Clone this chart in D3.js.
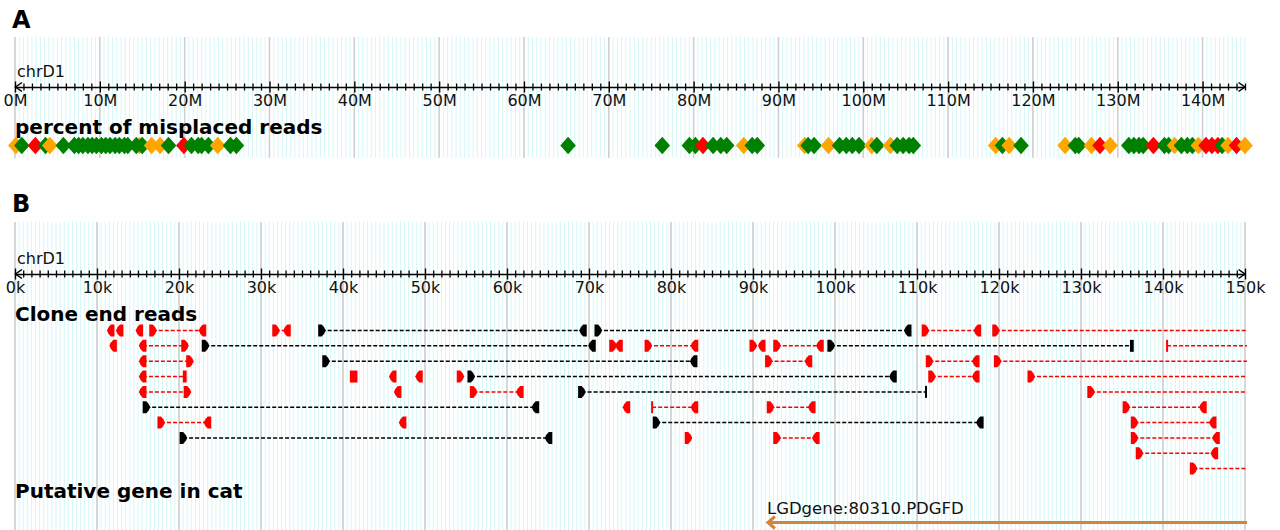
<!DOCTYPE html>
<html>
<head>
<meta charset="utf-8">
<script src="https://cdn.jsdelivr.net/npm/d3@7"></script>
<style>
  body { margin: 0; background: #fff; }
  svg { display: block; font-family: "DejaVu Sans", sans-serif; }
</style>
</head>
<body>
<svg id="chart" width="1280" height="530"></svg>
<script>
// ---------- Panel A: misplaced-read scan along chrD1 (positions in Mb) ----------
const chromName = "chrD1";
const chromLengthMb = 145;
const majorTicksMb = d3.range(0, 141, 10);
const minorTicksMb = d3.range(0, 146, 1);

// window centres (Mb) and the misplaced-read level of each window
const scanPosMb = [
  0.1, 0.8, 2.4, 3.6, 4.1, 5.7,
  7.0, 7.5, 8.0, 8.6, 9.1, 9.6, 10.2, 10.7, 11.2, 11.8, 12.3, 12.9, 13.3,
  14.7, 14.3, 15.0, 16.1, 17.1, 18.1, 19.9, 20.8, 21.6, 22.0, 22.8, 23.9, 25.4, 26.1,
  65.2, 76.3, 79.5, 80.2, 81.1, 82.3, 83.2, 83.9, 85.9, 86.9, 87.5,
  93.1, 93.5, 94.2, 95.9, 97.2, 98.0, 98.7, 99.5, 101.0, 101.6,
  103.2, 104.0, 104.7, 105.4, 105.9,
  115.6, 116.4, 117.2, 118.6,
  123.8, 125.0, 125.4, 126.9, 127.9, 129.1,
  131.3, 131.9, 132.5, 133.0, 134.2, 135.5, 136.0, 136.7, 137.5, 138.2, 138.8,
  139.5, 140.4, 141.1, 141.8, 142.3, 143.0, 144.0, 145.0
];
const scanLevel = [
  "mid", "low", "high", "low", "mid", "low",
  "low", "low", "low", "low", "low", "low", "low", "low", "low", "low", "low", "low", "low",
  "mid", "low", "low", "mid", "mid", "low", "high", "low", "low", "low", "low", "mid", "low", "low",
  "low", "low", "low", "low", "high", "low", "low", "low", "mid", "low", "low",
  "mid", "low", "low", "mid", "low", "low", "low", "low", "mid", "low",
  "mid", "low", "low", "low", "low",
  "mid", "low", "mid", "low",
  "mid", "low", "low", "mid", "high", "mid",
  "low", "low", "low", "low", "high", "low", "low", "mid", "low", "low", "low",
  "mid", "high", "high", "high", "low", "mid", "high", "mid"
];
const levelNames = ["low", "mid", "high"];
const levelColors = ["#008000", "#ffa500", "#ff0000"];

// ---------- Panel B: clone end reads in a 150 kb window (positions in kb) ----------
const windowKb = 150;
const majorTicksKb = d3.range(0, 151, 10);
const minorTicksKb = d3.range(0, 151, 1);

// paired clones: [track, left read kb, right read kb (null = mate beyond window),
//                 status, left read strand, right read strand]
// strand "+" / "-" ; "|" and "||" mark clipped read ends
const pairedClones = [
  [0, 16.8, 22.9, "discordant", "+", "-"],
  [0, 31.8, 33.2, "discordant", "+", "-"],
  [0, 37.4, 69.3, "concordant", "+", "-"],
  [0, 71.1, 108.9, "concordant", "+", "-"],
  [0, 111.0, 117.4, "discordant", "+", "-"],
  [0, 119.6, null, "discordant", "+", null],
  [1, 15.6, 20.7, "discordant", "-", "+"],
  [1, 23.2, 70.4, "concordant", "+", "-"],
  [1, 72.9, 73.7, "discordant", "+", "-"],
  [1, 77.2, 82.9, "discordant", "+", "-"],
  [1, 90.0, 91.1, "discordant", "+", "-"],
  [1, 92.9, 98.2, "discordant", "+", "-"],
  [1, 99.5, 136.2, "concordant", "+", "||"],
  [1, 140.5, null, "discordant", "|", null],
  [2, 15.6, 21.3, "discordant", "-", "+"],
  [2, 37.9, 82.8, "concordant", "+", "-"],
  [2, 91.9, 96.8, "discordant", "+", "-"],
  [2, 111.5, 117.2, "discordant", "+", "-"],
  [2, 119.8, null, "discordant", "+", null],
  [3, 15.6, 20.7, "discordant", "-", "||"],
  [3, 55.6, 107.1, "concordant", "+", "-"],
  [3, 111.8, 117.2, "discordant", "+", "-"],
  [3, 123.9, null, "discordant", "+", null],
  [4, 15.6, 21.0, "discordant", "-", "+"],
  [4, 55.9, 61.6, "discordant", "+", "-"],
  [4, 69.1, 111.1, "concordant", "+", "|"],
  [4, 131.2, null, "discordant", "+", null],
  [5, 16.0, 63.5, "concordant", "+", "-"],
  [5, 77.7, 82.9, "discordant", "|", "-"],
  [5, 92.1, 97.2, "discordant", "+", "-"],
  [5, 135.5, 144.9, "discordant", "+", "-"],
  [6, 17.8, 23.5, "discordant", "+", "-"],
  [6, 78.2, 117.7, "concordant", "+", "-"],
  [6, 136.5, 146.1, "discordant", "+", "-"],
  [7, 20.5, 65.1, "concordant", "+", "-"],
  [7, 92.9, 97.7, "discordant", "+", "-"],
  [7, 136.5, 146.5, "discordant", "+", "-"],
  [8, 137.1, 146.3, "discordant", "+", "-"],
  [9, 143.7, null, "discordant", "+", null]
];

// reads whose mate maps elsewhere: [track, kb, strand]  ("#" = overlapping reads)
const unpairedReads = [
  [0, 11.7, "-"], [0, 12.8, "-"], [0, 15.2, "-"],
  [1, 12.0, "-"],
  [3, 41.3, "#"], [3, 46.1, "-"], [3, 49.3, "-"], [3, 54.3, "+"],
  [4, 46.7, "-"],
  [5, 74.6, "-"],
  [6, 47.3, "-"],
  [7, 82.1, "+"]
];

// putative gene: name, start kb, end kb (null = beyond window), strand
const geneName = "LGDgene:80310.PDGFD";
const geneStartKb = 91.7;
const geneEndKb = null;
const geneStrand = "-";

// ---------- drawing ----------
const svg = d3.select("#chart");
const plotLeft = 15, plotRight = 1245;

const xA = d3.scaleLinear().domain([0, chromLengthMb]).range([plotLeft, plotRight]);
const xB = d3.scaleLinear().domain([0, windowKb]).range([plotLeft, plotRight]);
const levelColor = d3.scaleOrdinal().domain(levelNames).range(levelColors);
const statusColor = d3.scaleOrdinal().domain(["concordant", "discordant"]).range(["#000000", "#ff0000"]);

function drawGrid(x, maxVal, majors, yTop, yBottom) {
  const g = svg.append("g");
  g.append("g").selectAll("line")
    .data(d3.range(0, maxVal + 0.001, 0.5))
    .join("line")
    .attr("x1", d => x(d)).attr("x2", d => x(d))
    .attr("y1", yTop).attr("y2", yBottom)
    .attr("stroke", "#d6f7f7").attr("stroke-width", 1);
  g.append("g").selectAll("line")
    .data(majors)
    .join("line")
    .attr("x1", d => x(d)).attr("x2", d => x(d))
    .attr("y1", yTop).attr("y2", yBottom)
    .attr("stroke", "#d0d0d0").attr("stroke-width", 1.6);
}

function drawChromAxis(x, y, majors, minors, unit) {
  const g = svg.append("g").attr("transform", `translate(0,${y})`);

  const majorSet = new Set(majors);
  const minorAxis = g.append("g")
    .call(d3.axisBottom(x).tickValues(minors.filter(d => !majorSet.has(d)))
      .tickSize(3).tickSizeOuter(0).tickFormat(""));
  minorAxis.select(".domain").remove();
  minorAxis.selectAll(".tick line").attr("y1", -3.5).attr("y2", 3.5)
    .attr("stroke", "#000").attr("stroke-width", 1.3);

  const majorAxis = g.append("g")
    .call(d3.axisBottom(x).tickValues(majors).tickSize(5).tickPadding(3)
      .tickSizeOuter(0).tickFormat(d => d + unit));
  majorAxis.attr("font-family", null).attr("font-size", null);
  majorAxis.select(".domain").attr("stroke", "#000").attr("stroke-width", 1.6);
  majorAxis.selectAll(".tick line").attr("y1", -5.5).attr("y2", 5.5)
    .attr("stroke", "#000").attr("stroke-width", 1.4);
  majorAxis.selectAll(".tick text")
    .attr("fill", "#111").style("font-size", "16px")
    .style("font-family", "'DejaVu Sans', sans-serif");

  // arrow heads at both ends of the chromosome line
  const [r0, r1] = x.range();
  g.append("path")
    .attr("d", `M${r0 + 7},-4.5 L${r0 + 0.5},0 L${r0 + 7},4.5`)
    .attr("fill", "none").attr("stroke", "#000").attr("stroke-width", 1.5);
  g.append("path")
    .attr("d", `M${r1 - 6.5},-4.5 L${r1},0 L${r1 - 6.5},4.5`)
    .attr("fill", "none").attr("stroke", "#000").attr("stroke-width", 1.5);

  svg.append("text").attr("x", 17).attr("y", y - 10)
    .attr("fill", "#111").style("font-size", "16px").text(chromName);
}

function panelLabel(txt, y) {
  svg.append("text").attr("x", 12).attr("y", y)
    .style("font-size", "24px").style("font-weight", "bold").attr("fill", "#000").text(txt);
}
function trackLabel(txt, y) {
  svg.append("text").attr("x", 15).attr("y", y)
    .style("font-size", "20px").style("font-weight", "bold").attr("fill", "#000").text(txt);
}

// ----- Panel A -----
panelLabel("A", 28);
drawGrid(xA, chromLengthMb, majorTicksMb, 37, 158);
drawChromAxis(xA, 87, majorTicksMb, minorTicksMb, "M");
trackLabel("percent of misplaced reads", 134);

const diamondY = 145.5, dW = 7.8, dH = 8.7;
svg.append("g").selectAll("path")
  .data(d3.zip(scanPosMb, scanLevel))
  .join("path")
  .attr("d", ([p]) => {
    const cx = xA(p);
    return `M${cx},${diamondY - dH} L${cx + dW},${diamondY} L${cx},${diamondY + dH} L${cx - dW},${diamondY} Z`;
  })
  .attr("fill", ([, lv]) => levelColor(lv));

// ----- Panel B -----
panelLabel("B", 212);
drawGrid(xB, windowKb, majorTicksKb, 222, 530);
drawChromAxis(xB, 274, majorTicksKb, minorTicksKb, "k");
trackLabel("Clone end reads", 321);
trackLabel("Putative gene in cat", 498);

const trackY = d3.scaleLinear().domain([0, 9]).range([330.5, 468.6]);
const readH = 6;

function readGlyph(strand, cx, cy) {
  const h = readH;
  if (strand === "+") {
    return `M${cx - 3.5},${cy - h} L${cx},${cy - h} Q${cx + 3},${cy - 3.5} ${cx + 4},${cy} Q${cx + 3},${cy + 3.5} ${cx},${cy + h} L${cx - 3.5},${cy + h} Z`;
  }
  if (strand === "-") {
    return `M${cx + 3.5},${cy - h} L${cx},${cy - h} Q${cx - 3},${cy - 3.5} ${cx - 4},${cy} Q${cx - 3},${cy + 3.5} ${cx},${cy + h} L${cx + 3.5},${cy + h} Z`;
  }
  if (strand === "|") {
    return `M${cx - 1},${cy - h} H${cx + 1} V${cy + h} H${cx - 1} Z`;
  }
  if (strand === "||") {
    return `M${cx - 1.9},${cy - h} H${cx + 1.9} V${cy + h} H${cx - 1.9} Z`;
  }
  // "#": overlapping reads drawn as a block
  return `M${cx - 3.8},${cy - h} H${cx + 3.8} V${cy + h} H${cx - 3.8} Z`;
}

const readsG = svg.append("g");
const lineRight = plotRight + 2;

// dashed connectors between mate pairs
readsG.append("g").selectAll("line")
  .data(pairedClones)
  .join("line")
  .attr("x1", d => xB(d[1]))
  .attr("x2", d => d[2] === null ? lineRight : xB(d[2]))
  .attr("y1", d => trackY(d[0])).attr("y2", d => trackY(d[0]))
  .attr("stroke", d => statusColor(d[3]))
  .attr("stroke-width", 1.5)
  .attr("stroke-dasharray", "4,2");

// read glyphs of the pairs
const pairReads = [];
pairedClones.forEach(d => {
  pairReads.push([d[0], d[1], d[3], d[4]]);
  if (d[2] !== null) pairReads.push([d[0], d[2], d[3], d[5]]);
});
readsG.append("g").selectAll("path")
  .data(pairReads)
  .join("path")
  .attr("d", d => readGlyph(d[3], xB(d[1]), trackY(d[0])))
  .attr("fill", d => statusColor(d[2]));

// unpaired reads
readsG.append("g").selectAll("path")
  .data(unpairedReads)
  .join("path")
  .attr("d", d => readGlyph(d[2], xB(d[1]), trackY(d[0])))
  .attr("fill", statusColor("discordant"));

// gene model
const geneY = 522.5;
const gx0 = xB(geneStartKb);
const gx1 = geneEndKb === null ? lineRight : xB(geneEndKb);
const geneG = svg.append("g");
geneG.append("line")
  .attr("x1", gx0 + 1).attr("x2", gx1)
  .attr("y1", geneY).attr("y2", geneY)
  .attr("stroke", "#cd853f").attr("stroke-width", 3);
if (geneStrand === "-") {
  geneG.append("path")
    .attr("d", `M${gx0 + 8},${geneY - 6} L${gx0 + 1},${geneY} L${gx0 + 8},${geneY + 6}`)
    .attr("fill", "none").attr("stroke", "#cd853f").attr("stroke-width", 3);
}
geneG.append("text")
  .attr("x", gx0).attr("y", 514)
  .attr("fill", "#111").style("font-size", "16.5px")
  .text(geneName);
</script>
</body>
</html>
